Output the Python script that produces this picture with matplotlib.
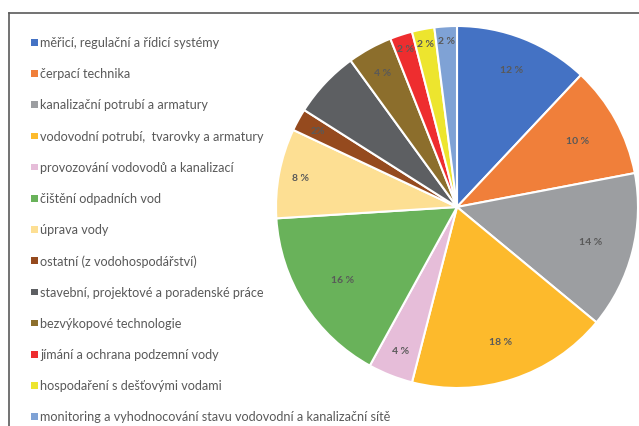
import matplotlib.pyplot as plt
from matplotlib.lines import Line2D
from matplotlib.patches import Rectangle
import numpy as np

# data
categories = ["měřicí, regulační a řídicí systémy",
              "čerpací technika",
              "kanalizační potrubí a armatury",
              "vodovodní potrubí,  tvarovky a armatury",
              "provozování vodovodů a kanalizací",
              "čištění odpadních vod",
              "úprava vody",
              "ostatní (z vodohospodářství)",
              "stavební, projektové a poradenské práce",
              "bezvýkopové technologie",
              "jímání a ochrana podzemní vody",
              "hospodaření s dešťovými vodami",
              "monitoring a vyhodnocování stavu vodovodní a kanalizační sítě"]
shares = [12, 10, 14, 18, 4, 16, 8, 2, 6, 4, 2, 2, 2]
# the dark grey slice shows no label in the original
pct_labels = ["12 %", "10 %", "14 %", "18 %", "4 %", "16 %", "8 %", "2%",
              "", "4 %", "2 %", "2 %", "2 %"]

colors = ["#4472C4", "#F07F3A", "#9C9EA1", "#FDBA2C", "#E6BDD9", "#69B25A",
          "#FDDF93", "#954A1E", "#5D5F62", "#8C6E2C", "#EE2D2F", "#EDE52E",
          "#7FA2D5"]
# how far out each label sits (fraction of radius)
label_r = [0.82, 0.76, 0.76, 0.78, 0.85, 0.75, 0.88, 0.88, 0.80, 0.85, 0.92, 0.92, 0.92]

W, H = 639, 427
fig = plt.figure(figsize=(W / 100, H / 100), dpi=100, facecolor="white")

# pie axes, centre ~ (457, 208) px, radius ~181 px
cx, cy, r = 457, 208, 181
ax = fig.add_axes([(cx - r) / W, (H - cy - r) / H, 2 * r / W, 2 * r / H])
wedges, _ = ax.pie(shares, colors=colors, startangle=90, counterclock=False,
                   radius=1, wedgeprops=dict(edgecolor="white", linewidth=1.5))
ax.set_xlim(-1, 1)
ax.set_ylim(-1, 1)
ax.set_aspect("equal")
ax.axis("off")

for w, lab, d in zip(wedges, pct_labels, label_r):
    ang = np.deg2rad((w.theta1 + w.theta2) / 2)
    ax.text(d * np.cos(ang), d * np.sin(ang), lab, ha="center", va="center",
            fontsize=7.5, fontweight="bold", color="#595959", family="Lato")

# legend drawn by hand
y0, step = 43, 31.2
for i, (cat, c) in enumerate(zip(categories, colors)):
    y = y0 + i * step
    fig.patches.append(Rectangle((31 / W, (H - y - 3.5) / H), 6.5 / W, 6.5 / H,
                                 transform=fig.transFigure, facecolor=c,
                                 edgecolor="none"))
    fig.text(40 / W, (H - y) / H, cat, ha="left", va="center", fontsize=9.1,
             color="#595959", family="Lato")

# frame lines (top and left)
fig.lines.append(Line2D([9 / W, 1], [(H - 14) / H, (H - 14) / H],
                        transform=fig.transFigure, color="#5a5a5a", lw=1.2))
fig.lines.append(Line2D([9 / W, 9 / W], [0, (H - 14) / H],
                        transform=fig.transFigure, color="#5a5a5a", lw=1.2))

fig.savefig("out.png", dpi=100)
